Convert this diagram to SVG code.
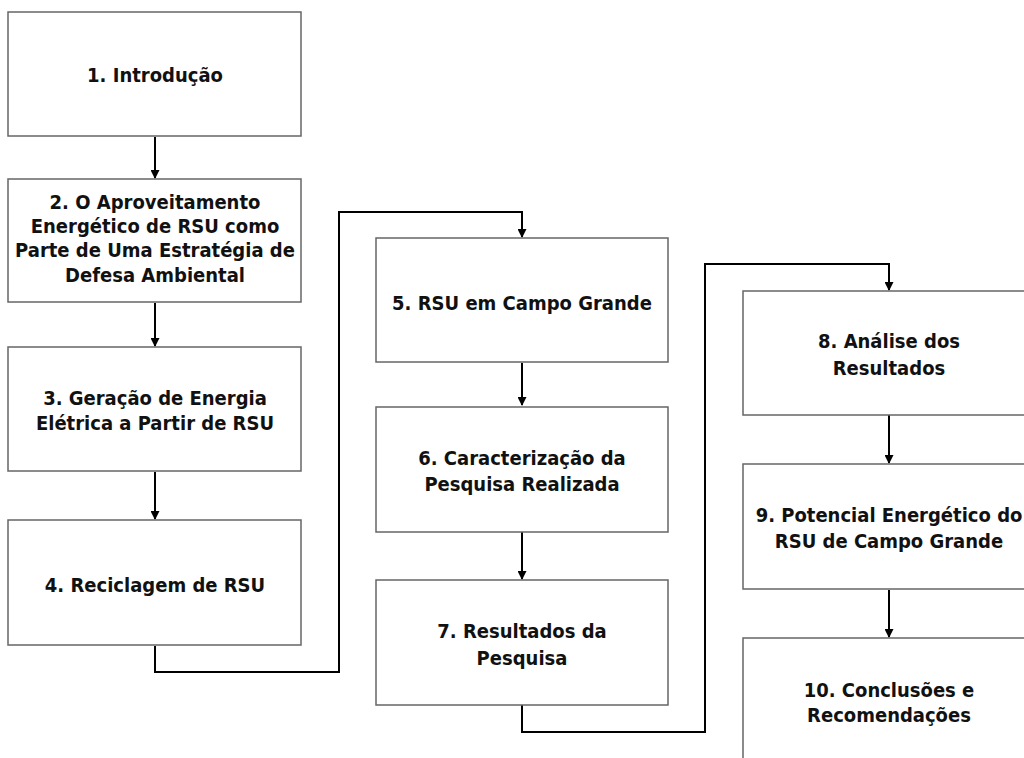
<svg xmlns="http://www.w3.org/2000/svg" width="1024" height="758" viewBox="0 0 1024 758">
<style>
.box{fill:#fff;stroke:#666;stroke-width:1.5}
.lbl{font-family:"DejaVu Sans Condensed","DejaVu Sans",sans-serif;font-stretch:condensed;font-weight:bold;font-size:20px;fill:#111;text-anchor:middle}
.con{fill:none;stroke:#000;stroke-width:2}
</style>
<defs>
<marker id="ah" markerWidth="9" markerHeight="9" refX="8" refY="4.5" orient="auto" markerUnits="userSpaceOnUse">
<path d="M0,0 L9,4.5 L0,9 Z" fill="#000"/>
</marker>
</defs>
<rect width="1024" height="758" fill="#fff"/>
<g id="connectors">
<path class="con" d="M155,137 V178" marker-end="url(#ah)"/>
<path class="con" d="M155,303 V346" marker-end="url(#ah)"/>
<path class="con" d="M155,472 V519" marker-end="url(#ah)"/>
<path class="con" d="M155,646 V672 H339 V212 H522 V237" marker-end="url(#ah)"/>
<path class="con" d="M522,363 V405" marker-end="url(#ah)"/>
<path class="con" d="M522,532 V579" marker-end="url(#ah)"/>
<path class="con" d="M522,705 V732 H705 V264 H889 V290" marker-end="url(#ah)"/>
<path class="con" d="M889,415 V463" marker-end="url(#ah)"/>
<path class="con" d="M889,590 V637" marker-end="url(#ah)"/>
</g>
<g id="n1"><rect class="box" x="8" y="12" width="293" height="124"/><text class="lbl" x="155" y="82">1. Introdução</text></g>
<g id="n2"><rect class="box" x="8" y="179" width="293" height="123"/>
<text class="lbl" x="155" y="209">2. O Aproveitamento</text>
<text class="lbl" x="155" y="233">Energético de RSU como</text>
<text class="lbl" x="155" y="257">Parte de Uma Estratégia de</text>
<text class="lbl" x="155" y="281.5">Defesa Ambiental</text></g>
<g id="n3"><rect class="box" x="8" y="347" width="293" height="124"/>
<text class="lbl" x="155" y="405">3. Geração de Energia</text>
<text class="lbl" x="155" y="430">Elétrica a Partir de RSU</text></g>
<g id="n4"><rect class="box" x="8" y="520" width="293" height="125"/>
<text class="lbl" x="155" y="592">4. Reciclagem de RSU</text></g>
<g id="n5"><rect class="box" x="376" y="238" width="292" height="124"/>
<text class="lbl" x="522" y="310">5. RSU em Campo Grande</text></g>
<g id="n6"><rect class="box" x="376" y="407" width="292" height="125"/>
<text class="lbl" x="522" y="465">6. Caracterização da</text>
<text class="lbl" x="522" y="491">Pesquisa Realizada</text></g>
<g id="n7"><rect class="box" x="376" y="580" width="292" height="125"/>
<text class="lbl" x="522" y="638">7. Resultados da</text>
<text class="lbl" x="522" y="665">Pesquisa</text></g>
<g id="n8"><rect class="box" x="743" y="291" width="293" height="124"/>
<text class="lbl" x="889" y="348">8. Análise dos</text>
<text class="lbl" x="889" y="375">Resultados</text></g>
<g id="n9"><rect class="box" x="743" y="464" width="293" height="125"/>
<text class="lbl" x="889" y="522">9. Potencial Energético do</text>
<text class="lbl" x="889" y="548">RSU de Campo Grande</text></g>
<g id="n10"><rect class="box" x="743" y="638" width="293" height="124"/>
<text class="lbl" x="889" y="697">10. Conclusões e</text>
<text class="lbl" x="889" y="722">Recomendações</text></g>
</svg>
